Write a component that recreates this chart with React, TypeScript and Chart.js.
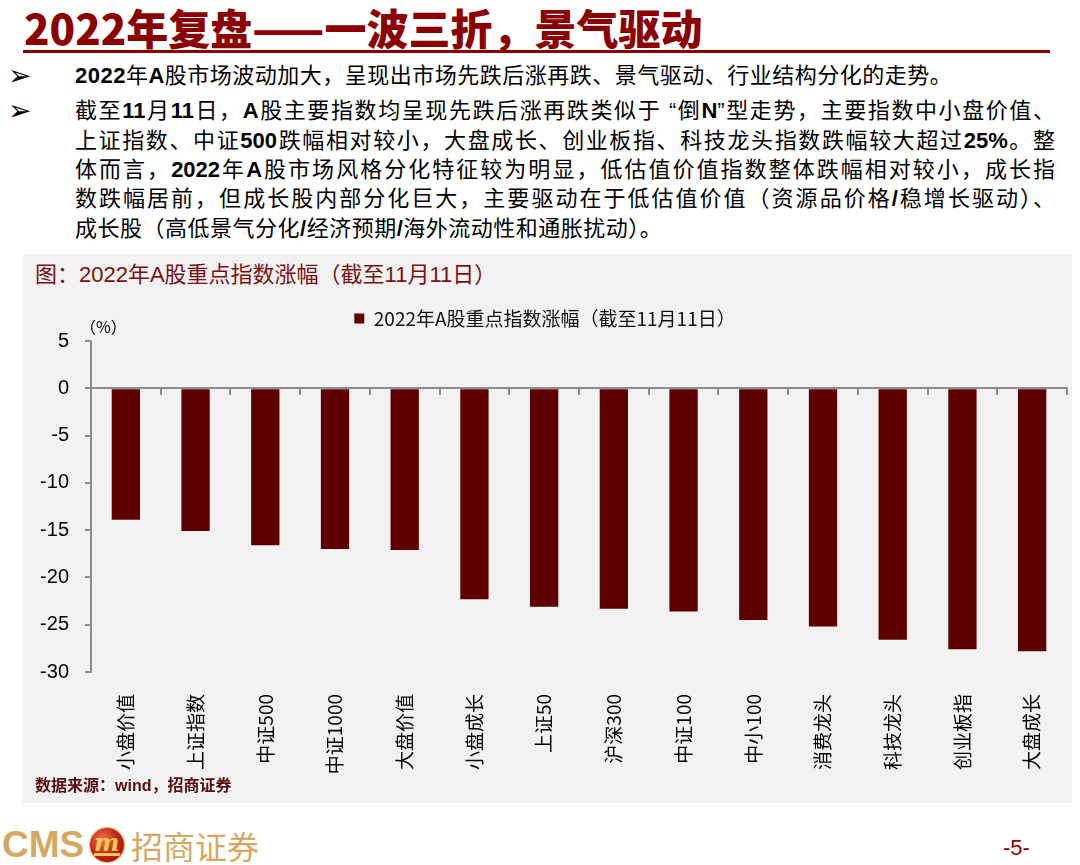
import React, { useEffect, useRef } from "react";
import { Chart, registerables } from "chart.js";

Chart.register(...registerables);

// ---------- data ----------
const categories = [
  "小盘价值", "上证指数", "中证500", "中证1000", "大盘价值", "小盘成长", "上证50",
  "沪深300", "中证100", "中小100", "消费龙头", "科技龙头", "创业板指", "大盘成长",
];
const returns2022 = [
  -13.9, -15.1, -16.6, -17.0, -17.1, -22.3, -23.1,
  -23.3, -23.6, -24.5, -25.2, -26.6, -27.6, -27.8,
];
const yTicks = [5, 0, -5, -10, -15, -20, -25, -30];
const seriesName = "2022年A股重点指数涨幅（截至11月11日）";

const pageTitle = "2022年复盘——一波三折，景气驱动";
const bullet1 = ["2022年A股市场波动加大，呈现出市场先跌后涨再跌、景气驱动、行业结构分化的走势。"];
const bullet2 = [
  "截至11月11日，A股主要指数均呈现先跌后涨再跌类似于 “倒N”型走势，主要指数中小盘价值、",
  "上证指数、中证500跌幅相对较小，大盘成长、创业板指、科技龙头指数跌幅较大超过25%。整",
  "体而言，2022年A股市场风格分化特征较为明显，低估值价值指数整体跌幅相对较小，成长指",
  "数跌幅居前，但成长股内部分化巨大，主要驱动在于低估值价值（资源品价格/稳增长驱动）、",
  "成长股（高低景气分化/经济预期/海外流动性和通胀扰动）。",
];
const chartTitle = "图：2022年A股重点指数涨幅（截至11月11日）";
const sourceText = "数据来源：wind，招商证券";

// ---------- styles ----------
const CJK = '"Noto Sans CJK SC", "Noto Sans CJK JP", sans-serif';
const MIXED = '"Liberation Sans", Arial, "Noto Sans CJK SC", sans-serif';
const BAR = "#5E0000";
const AXIS = "#8C8C8C";
const RED = "#8B0000";

function rich(s: string) {
  const parts = s.split(/([A-Za-z0-9%\/]+)/);
  return parts.map((p, i) =>
    i % 2 === 1 ? (
      <b key={i} style={{ fontWeight: 700 }}>{p}</b>
    ) : (
      <span key={i}>{p}</span>
    )
  );
}

const legendHeightPlugin = {
  id: "legendHeight",
  afterInit(chart: any) {
    const lg = chart.legend;
    if (lg) {
      const orig = lg.fit;
      lg.fit = function () {
        orig.call(this);
        this.height = 42;
      };
    }
  },
};

const percentPlugin = {
  id: "percentLabel",
  afterDraw(chart: any) {
    const { ctx, chartArea } = chart;
    ctx.save();
    ctx.font = `16px ${CJK}`;
    ctx.fillStyle = "#000";
    ctx.textAlign = "left";
    ctx.textBaseline = "middle";
    ctx.fillText("（%）", chartArea.left - 11, chartArea.top - 14);
    ctx.restore();
  },
};

function BarChart() {
  const ref = useRef<HTMLCanvasElement>(null);
  useEffect(() => {
    const cvs = ref.current;
    if (!cvs) return;
    const chart = new Chart(cvs, {
      type: "bar",
      data: {
        labels: categories,
        datasets: [
          {
            label: seriesName,
            data: returns2022,
            backgroundColor: BAR,
            borderWidth: 0,
            barPercentage: 0.406,
            categoryPercentage: 1,
            xAxisID: "x",
            yAxisID: "y",
          },
        ],
      },
      options: {
        animation: false,
        responsive: false,
        devicePixelRatio: 1,
        layout: { padding: { top: 4, left: 0, right: 5, bottom: 0 } },
        plugins: {
          legend: {
            display: true,
            position: "top",
            align: "center",
            labels: {
              boxWidth: 10,
              boxHeight: 10,
              padding: 10,
              color: "#111",
              font: { size: 19, family: CJK },
            },
          },
          tooltip: { enabled: false },
        },
        scales: {
          x: {
            type: "category",
            position: { y: 0 } as any,
            offset: true,
            z: 1,
            ticks: { display: false },
            grid: {
              display: true,
              drawOnChartArea: false,
              drawTicks: true,
              tickLength: 6,
              color: AXIS,
              lineWidth: 2,
              offset: true,
            },
            border: { display: true, color: AXIS, width: 2 },
          },
          x2: {
            type: "category",
            position: "bottom",
            offset: true,
            grid: { display: false, offset: true },
            border: { display: false },
            ticks: {
              autoSkip: false,
              maxRotation: 90,
              minRotation: 90,
              padding: 14,
              color: "#000",
              font: { size: 19, family: CJK },
            },
            afterFit: (s: any) => {
              s.height = 123;
            },
          },
          y: {
            type: "linear",
            position: "left",
            min: -30,
            max: 5,
            afterBuildTicks: (s: any) => {
              s.ticks = yTicks.map((v) => ({ value: v }));
            },
            ticks: {
              padding: 16,
              color: "#000",
              font: { size: 20, family: '"Liberation Sans", Arial, sans-serif' },
            },
            grid: {
              display: true,
              drawOnChartArea: false,
              drawTicks: true,
              tickLength: 6,
              color: AXIS,
              lineWidth: 2,
            },
            border: { display: true, color: AXIS, width: 2 },
            afterFit: (s: any) => {
              s.width = 68;
            },
          },
        },
      } as any,
      plugins: [legendHeightPlugin, percentPlugin],
    });
    return () => chart.destroy();
  }, []);
  return (
    <canvas
      ref={ref}
      width={1049}
      height={500}
      style={{ position: "absolute", left: 23, top: 295, width: 1049, height: 500, display: "block" }}
    />
  );
}

export default function App() {
  const lineH = 29.3;
  return (
    <div
      style={{
        position: "absolute",
        left: 0,
        top: 0,
        width: 1080,
        height: 865,
        background: "#fff",
        overflow: "hidden",
        fontFamily: MIXED,
      }}
    >
      {/* Title */}
      <div
        style={{
          position: "absolute",
          left: 24,
          top: 6,
          fontFamily: CJK,
          fontWeight: 900,
          fontSize: 42,
          lineHeight: "42px",
          color: RED,
          whiteSpace: "nowrap",
        }}
      >
        {pageTitle}
      </div>
      <div style={{ position: "absolute", left: 23, top: 50, width: 1027, height: 3, background: RED }} />

      {/* Bullets */}
      {[76, 111].map((cy, i) => (
        <div
          key={"b" + i}
          style={{
            position: "absolute",
            left: 8,
            top: cy - 16,
            fontSize: 28,
            lineHeight: "32px",
            fontWeight: 700,
            fontFamily: '"DejaVu Sans", sans-serif',
            color: "#000",
          }}
        >
          ➢
        </div>
      ))}
      {bullet1.map((t, i) => (
        <div
          key={"l1" + i}
          style={{
            position: "absolute",
            left: 75,
            top: 76 - lineH / 2,
            fontSize: 22,
            lineHeight: lineH + "px",
            letterSpacing: 0.5,
            whiteSpace: "nowrap",
            color: "#000",
          }}
        >
          {rich(t)}
        </div>
      ))}
      {bullet2.map((t, i) => {
        const last = i === bullet2.length - 1;
        return (
          <div
            key={"l2" + i}
            style={{
              position: "absolute",
              left: 75,
              top: 111 + i * lineH - lineH / 2,
              width: 980,
              fontSize: 22,
              lineHeight: lineH + "px",
              letterSpacing: last ? 0.5 : 0,
              whiteSpace: "nowrap",
              textAlign: last ? "left" : "justify",
              textAlignLast: last ? "left" : "justify",
              color: "#000",
            } as any}
          >
            {rich(t)}
          </div>
        );
      })}

      {/* Chart panel */}
      <div style={{ position: "absolute", left: 23, top: 254, width: 1049, height: 549, background: "#F2F2F2" }} />
      <div
        style={{
          position: "absolute",
          left: 35,
          top: 262,
          fontSize: 22,
          lineHeight: "26px",
          color: "#7A1010",
          whiteSpace: "nowrap",
          fontFamily: MIXED,
        }}
      >
        {chartTitle}
      </div>
      <BarChart />
      <div
        style={{
          position: "absolute",
          left: 35,
          top: 775,
          fontSize: 16,
          lineHeight: "22px",
          fontWeight: 700,
          color: "#5A0A0A",
          whiteSpace: "nowrap",
          fontFamily: MIXED,
        }}
      >
        {sourceText}
      </div>

      {/* Footer */}
      <div
        style={{
          position: "absolute",
          left: 2,
          top: 824,
          fontSize: 37,
          lineHeight: "42px",
          fontWeight: 700,
          color: "#D4A862",
          fontFamily: '"Liberation Sans Narrow", "Liberation Sans", Arial, sans-serif',
          letterSpacing: 0,
        }}
      >
        CMS
      </div>
      <div
        style={{
          position: "absolute",
          left: 90,
          top: 828,
          width: 34,
          height: 34,
          borderRadius: "50%",
          background: "radial-gradient(circle at 38% 35%, #F07A4A 0%, #C8281A 45%, #8A0E06 100%)",
          boxShadow: "0 0 0 1px #E8B860",
          overflow: "hidden",
        }}
      >
        <div
          style={{
            position: "absolute",
            left: 4,
            top: 1,
            fontFamily: '"DejaVu Serif", serif',
            fontStyle: "italic",
            fontWeight: 700,
            fontSize: 24,
            lineHeight: "28px",
            color: "#F4C95A",
          }}
        >
          m
        </div>
        <div style={{ position: "absolute", left: 4, top: 25, width: 26, height: 3, background: "#F4C95A", transform: "skewX(-20deg)" }} />
      </div>
      <div
        style={{
          position: "absolute",
          left: 131,
          top: 827,
          fontSize: 32,
          lineHeight: "36px",
          fontFamily: CJK,
          color: "#D4A862",
          whiteSpace: "nowrap",
        }}
      >
        招商证券
      </div>
      <div
        style={{
          position: "absolute",
          left: 1003,
          top: 835,
          fontSize: 22,
          lineHeight: "26px",
          color: RED,
          fontFamily: '"Liberation Sans Narrow", "Liberation Sans", Arial, sans-serif',
        }}
      >
        -5-
      </div>
    </div>
  );
}
